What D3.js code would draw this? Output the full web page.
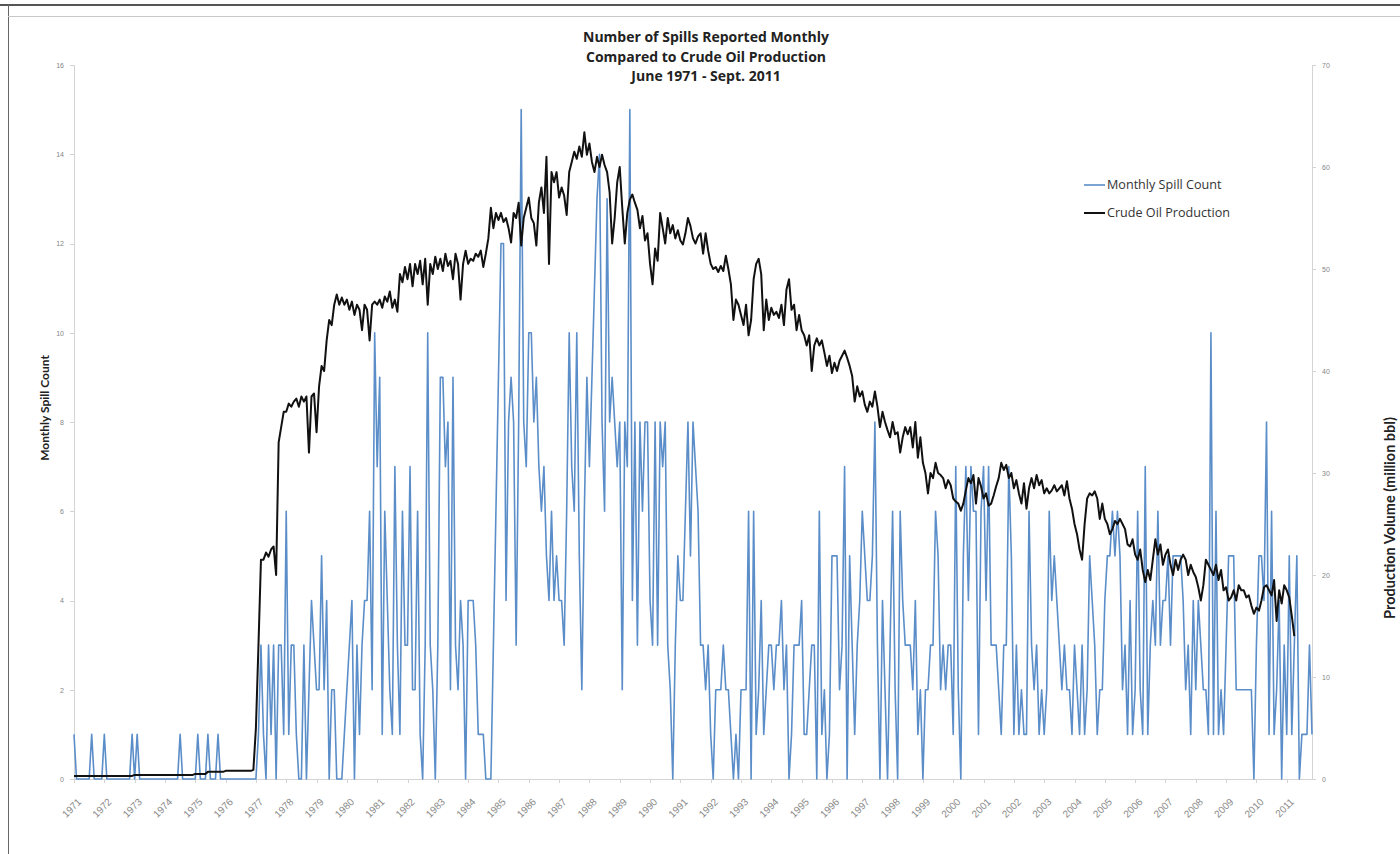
<!DOCTYPE html>
<html>
<head>
<meta charset="utf-8">
<title>Number of Spills Reported Monthly Compared to Crude Oil Production</title>
<script src="https://d3js.org/d3.v7.min.js"></script>
<style>
  body { margin: 0; background: #fff; }
  svg { font-family: Lato, "Open Sans", sans-serif; display: block; }
  .axis path, .axis line { stroke: #d4d4d4; shape-rendering: crispEdges; }
  .axis text { fill: #858585; font-size: 7px; }
  .xaxis text { font-size: 10px; fill: #8a8a8a; }
  .title { font-family: "Open Sans", sans-serif; font-weight: bold; font-size: 14px; fill: #222; }
  .ylabel { font-weight: bold; font-size: 12px; fill: #222; }
  .ylabel.right { font-size: 14.5px; }
  .legend text { font-family: "Open Sans", sans-serif; font-size: 12.6px; fill: #333; }
</style>
</head>
<body>
<div id="chart"></div>
<script>
// monthly values, first month = June 1971
const spills = [
  1,0,0,0,0,0,0,1,0,0,0,0,
  1,0,0,0,0,0,0,0,0,0,0,1,
  0,1,0,0,0,0,0,0,0,0,0,0,
  0,0,0,0,0,0,1,0,0,0,0,0,
  0,1,0,0,0,1,0,0,0,1,0,0,
  0,0,0,0,0,0,0,0,0,0,0,0,
  0,1,3,1,0,3,1,3,0,3,3,1,
  6,1,3,3,1,0,0,3,0,2,4,3,
  2,2,5,2,4,0,2,2,0,0,0,1,
  2,3,4,0,3,1,3,4,4,6,2,10,
  7,9,1,6,4,2,1,7,3,1,6,3,
  3,7,2,2,6,1,0,3,10,3,2,0,
  3,9,9,7,8,2,9,3,2,4,3,0,
  4,4,4,3,1,1,1,0,0,0,3,6,
  9,12,12,4,8,9,8,3,8,15,8,7,
  10,10,8,9,7,6,7,5,4,6,4,5,
  4,4,3,6,10,7,6,10,5,2,6,9,
  7,9,11,13,14,8,6,13,8,9,8,7,
  8,2,8,7,15,4,8,3,8,6,8,8,
  4,3,8,3,8,7,8,3,2,0,3,5,
  4,4,6,8,5,8,7,6,3,3,2,3,
  1,0,2,2,2,3,2,2,1,0,1,0,
  2,2,2,6,0,6,1,2,4,1,2,3,
  3,2,3,3,4,2,3,0,1,3,3,3,
  4,1,1,2,3,3,0,6,1,2,0,1,
  5,5,5,2,3,7,0,5,3,1,3,4,
  6,5,4,4,5,8,3,0,4,2,0,3,
  6,2,0,6,4,3,3,3,2,4,1,2,
  0,2,2,3,3,6,5,2,3,2,3,3,
  1,7,2,0,5,7,4,7,6,6,1,6,
  7,4,7,3,3,3,2,1,3,3,7,5,
  1,3,1,2,1,1,6,3,2,3,1,2,
  1,2,6,4,5,4,3,2,3,2,2,1,
  3,2,1,3,1,2,5,4,3,1,2,2,
  4,5,5,6,5,6,5,2,3,1,4,1,
  2,6,2,1,7,1,3,4,3,6,3,4,
  4,5,3,5,5,5,5,4,2,3,1,4,
  2,4,3,2,2,1,10,1,6,1,2,1,
  3,5,5,5,2,2,2,2,2,2,2,0,
  3,5,5,4,8,1,6,1,2,4,0,3,
  1,5,1,3,5,0,1,1,1,3,1
];

// million bbl per month, June 1971 - Sept. 2011
const production = [
  0.3,0.3,0.3,0.3,0.3,0.3,0.3,0.3,0.3,0.3,0.3,0.3,
  0.3,0.3,0.3,0.3,0.3,0.3,0.3,0.3,0.3,0.3,0.3,0.3,
  0.4,0.4,0.4,0.4,0.4,0.4,0.4,0.4,0.4,0.4,0.4,0.4,
  0.4,0.4,0.4,0.4,0.4,0.4,0.4,0.4,0.4,0.4,0.4,0.4,
  0.5,0.5,0.5,0.5,0.5,0.7,0.7,0.7,0.7,0.7,0.7,0.7,
  0.8,0.8,0.8,0.8,0.8,0.8,0.8,0.8,0.8,0.8,0.8,0.9,
  5,13,21.5,21.5,22.2,21.8,22.5,22.8,20,33,34.5,36,
  36,36.8,36.5,37,37.3,36.5,37.5,37,37.5,32,37.5,37.8,
  34,38.5,40.5,40,43,45,44.5,46.5,47.5,46.5,47.2,46.5,
  47,46,46.8,45.5,46.5,46,44,46.5,46,43,46.5,46.8,
  46.5,47,46.2,47.3,46.8,47.8,46.2,47,45.8,49.5,48.7,50.2,
  49,50.5,48.3,50.5,49.5,50.8,48.5,51,46.5,50.5,49.5,51.2,
  50,51,49.8,51.5,50.3,50.8,49,51.5,50.5,47,50.5,51.8,
  50.5,51,50.8,51.5,51.2,51.8,50.2,51.5,53,56,54,55.5,
  54.8,55.5,54.6,55,54,52.6,55.5,55,56.5,52.3,55,56,
  57,55,54.5,52.3,56.5,58,55.5,61,50.5,59.5,58.5,59.5,
  57,58,57.2,55.3,59.5,60.5,61.5,60.8,62,61,63.4,61.2,
  62.3,60.5,59.5,61,60,61.2,60.2,59.5,57.5,52.5,55,58.5,
  60,56,52.5,55.5,56.8,57.3,56.5,55.8,54,55.2,52.8,53.5,
  50.5,48.5,52,50.8,55.5,54,52.5,55,53.5,54.3,53,53.8,
  52.8,52.4,53.5,55,54.2,53,52.5,53.2,53.5,51.5,53.5,51.8,
  50.5,50,50.2,49.7,50.3,49.8,51.3,50,48.5,45,47,46.5,
  45.5,44.5,46.5,43.5,45,49,50.5,51,49.5,44,47,45,
  46.2,45.5,45.8,45.2,46.5,44.5,48,49,46,46.5,44,45.5,
  44,43.5,42.5,43.5,40,42.5,43.2,42.5,43,41.8,40.5,41.5,
  39.8,40.8,40,41,41.5,42,41.3,40.5,39.5,37,38.5,37.5,
  38,36.7,36,37,36.5,38,36.5,34.5,36,35,34.2,33.5,
  35,33.8,34,32,33.5,34.5,33.8,34.5,32.5,35,31.5,33.5,
  31,30,28,30,29.5,31,30,29.8,29.5,28.5,29.3,28.8,
  27.5,27.2,27,26.3,27,28.3,29.5,29,29.8,27,29.5,28.7,
  27.5,28,26.8,27,27.8,28.7,29.5,31,30.3,30.8,29.5,30,
  28.5,29.3,28,27,29,26.5,28.5,29.5,28.5,29.8,28.8,29.3,
  28,28.5,28,28.3,28.8,28.2,28.5,28.8,27.8,29.2,27.5,26.5,
  25,24,22.5,21.5,25,27.5,28,27.8,28.2,27.5,25.5,27,
  25.5,25,24,24.5,25.3,25,25.5,25,24.5,23,22.8,23.5,
  22,21.5,22.5,20.5,19.3,20.5,19.5,21.5,23.5,22,23,21,
  22,22.5,21,20,21.5,20.5,21.5,22,21.5,20,21,20.3,
  19.8,18.8,17.5,19,21.5,21,20.5,20,21,19.5,20.5,18.5,
  18.8,17.5,17.8,18.5,17.5,19,18.5,18.5,17.8,18,17,16.2,
  16.8,16.5,17.5,18.8,19,18.5,18,19.5,15.5,18.5,17.2,19,
  18.5,17.8,16,14
];

const yearLabels = ["1971","1972","1973","1974","1975","1976","1977","1978","1979","1980",
  "1981","1982","1983","1984","1985","1986","1987","1988","1989","1990",
  "1991","1992","1993","1994","1995","1996","1997","1998","1999","2000",
  "2001","2002","2003","2004","2005","2006","2007","2008","2009","2010","2011"];
const spillTicks = [0,2,4,6,8,10,12,14,16];
const prodTicks = [0,10,20,30,40,50,60,70];
const titleLines = ["Number of Spills Reported Monthly", "Compared to Crude Oil Production", "June 1971 - Sept. 2011"];

const width = 1400, height = 854;
const plotLeft = 74, plotRight = 1312, plotTop = 65, plotBottom = 779;

const svg = d3.select("#chart").append("svg")
  .attr("width", width)
  .attr("height", height);

// frame
svg.append("line").attr("x1", 0).attr("x2", width).attr("y1", 5).attr("y2", 5)
  .attr("stroke", "#555").attr("stroke-width", 2);
svg.append("line").attr("x1", 8.5).attr("x2", 8.5).attr("y1", 5).attr("y2", height)
  .attr("stroke", "#666").attr("stroke-width", 1);
svg.append("line").attr("x1", 8).attr("x2", width).attr("y1", 16.5).attr("y2", 16.5)
  .attr("stroke", "#c8c8c8").attr("stroke-width", 1);

let x = d3.scaleLinear().domain([0, spills.length - 1]).range([plotLeft, plotRight]);
let ySpill = d3.scaleLinear().domain([0, 16]).range([plotBottom, plotTop]);
let yProd = d3.scaleLinear().domain([0, 70]).range([plotBottom, plotTop]);

// axes
svg.append("g").attr("class", "axis")
  .attr("transform", `translate(${plotLeft},0)`)
  .call(d3.axisLeft(ySpill).tickValues(spillTicks).tickSize(4).tickPadding(6));

svg.append("g").attr("class", "axis")
  .attr("transform", `translate(${plotRight},0)`)
  .call(d3.axisRight(yProd).tickValues(prodTicks).tickSize(4).tickPadding(6));

let xAxis = svg.append("g").attr("class", "axis xaxis")
  .attr("transform", `translate(0,${plotBottom})`)
  .call(d3.axisBottom(x)
    .tickValues(yearLabels.map((d, i) => i * 12))
    .tickFormat((d, i) => yearLabels[i])
    .tickSize(4).tickSizeOuter(0));
xAxis.selectAll("text")
  .attr("text-anchor", "end")
  .attr("transform", "translate(5,21) rotate(-45)")
  .attr("dy", "0.35em")
  .attr("y", 0);

// series
svg.append("path")
  .datum(spills)
  .attr("fill", "none")
  .attr("stroke", "#5b8ec9")
  .attr("stroke-width", 1.6)
  .attr("stroke-linejoin", "round")
  .attr("d", d3.line().x((d, i) => x(i)).y(d => ySpill(d)));

svg.append("path")
  .datum(production)
  .attr("fill", "none")
  .attr("stroke", "#111")
  .attr("stroke-width", 2)
  .attr("stroke-linejoin", "round")
  .attr("d", d3.line().x((d, i) => x(i)).y(d => yProd(d)));

// titles
svg.append("g").selectAll("text")
  .data(titleLines)
  .enter().append("text")
  .attr("class", "title")
  .attr("x", 706)
  .attr("y", (d, i) => 42 + i * 19.5)
  .attr("text-anchor", "middle")
  .text(d => d);

svg.append("text").attr("class", "ylabel")
  .attr("transform", "translate(49,408) rotate(-90)")
  .attr("text-anchor", "middle")
  .text("Monthly Spill Count");

svg.append("text").attr("class", "ylabel right")
  .attr("transform", "translate(1395,518) rotate(-90)")
  .attr("text-anchor", "middle")
  .text("Production Volume (million bbl)");

// legend
let legend = svg.append("g").attr("class", "legend");
[["Monthly Spill Count", "#5b8ec9", 1.6], ["Crude Oil Production", "#111", 2]].forEach((s, i) => {
  let y = 185 + i * 28;
  legend.append("line").attr("x1", 1084).attr("x2", 1105).attr("y1", y).attr("y2", y)
    .attr("stroke", s[1]).attr("stroke-width", s[2]);
  legend.append("text").attr("x", 1107).attr("y", y).attr("dy", "0.35em").text(s[0]);
});
</script>
</body>
</html>
